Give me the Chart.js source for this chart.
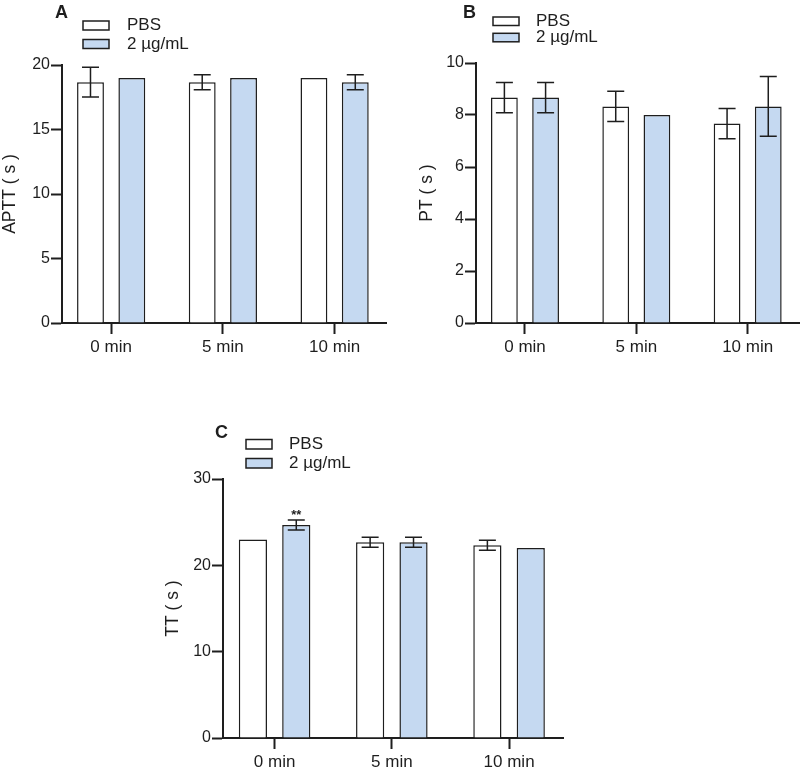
<!DOCTYPE html>
<html lang="en">
<head>
  <meta charset="UTF-8" />
  <title>APTT, PT and TT</title>
  <script src="https://cdn.jsdelivr.net/npm/chart.js"></script>
  <style>
    body {
      margin: 0;
      background: #fff;
      overflow: hidden;
    }
    .panel {
      position: absolute;
    }
  </style>
</head>
<body>

  <canvas id="chartA" class="panel" width="400" height="370" style="left:0;top:0"></canvas>
  <canvas id="chartB" class="panel" width="400" height="370" style="left:400px;top:0"></canvas>
  <canvas id="chartC" class="panel" width="500" height="384" style="left:140px;top:390px"></canvas>

  <script>
    const categories = ['0 min', '5 min', '10 min'];
    const seriesNames = ['PBS', '2 µg/mL'];

    // APTT (s)
    const apttPbs = [18.67, 18.67, 19];
    const apttPbsErr = [1.15, 0.58, 0];
    const apttDose = [19, 19, 18.67];
    const apttDoseErr = [0, 0, 0.58];

    // PT (s)
    const ptPbs = [8.67, 8.33, 7.67];
    const ptPbsErr = [0.58, 0.58, 0.58];
    const ptDose = [8.67, 8, 8.33];
    const ptDoseErr = [0.58, 0, 1.15];

    // TT (s)
    const ttPbs = [23, 22.67, 22.33];
    const ttPbsErr = [0, 0.58, 0.58];
    const ttDose = [24.67, 22.67, 22];
    const ttDoseErr = [0.58, 0.58, 0];
    const ttDoseMarks = ['**', '', ''];

    const INK = '#1e1e1e';
    const PBS_FILL = '#ffffff';
    const DOSE_FILL = '#c5d9f1';
    const FONT = '"Liberation Sans", Arial, sans-serif';

    Chart.defaults.font.family = FONT;
    Chart.defaults.color = INK;

    const toPoints = values => values.map((v, i) => ({ x: i, y: v }));

    // error bars (mean ± SD) and significance marks
    const errorBars = {
      id: 'errorBars',
      afterDatasetsDraw(chart) {
        const ctx = chart.ctx;
        const y = chart.scales.y;
        ctx.save();
        ctx.strokeStyle = INK;
        ctx.fillStyle = INK;
        ctx.lineWidth = 1.5;
        chart.data.datasets.forEach((ds, i) => {
          chart.getDatasetMeta(i).data.forEach((bar, j) => {
            const v = ds.data[j].y;
            const e = ds.errors[j] || 0;
            const top = y.getPixelForValue(v + e);
            if (e) {
              const bot = y.getPixelForValue(v - e);
              ctx.beginPath();
              ctx.moveTo(bar.x, top); ctx.lineTo(bar.x, bot);
              ctx.moveTo(bar.x - 8.5, top); ctx.lineTo(bar.x + 8.5, top);
              ctx.moveTo(bar.x - 8.5, bot); ctx.lineTo(bar.x + 8.5, bot);
              ctx.stroke();
            }
            const mark = (ds.marks || [])[j];
            if (mark) {
              ctx.font = 'bold 13px ' + FONT;
              ctx.textAlign = 'center';
              ctx.textBaseline = 'alphabetic';
              ctx.fillText(mark, bar.x, top - 1);
            }
          });
        });
        ctx.restore();
      }
    };

    // panel letter and legend
    const decor = {
      id: 'decor',
      afterDraw(chart, args, opts) {
        const ctx = chart.ctx;
        ctx.save();
        ctx.fillStyle = INK;
        ctx.textAlign = 'left';
        ctx.textBaseline = 'alphabetic';
        ctx.font = 'bold 18px ' + FONT;
        ctx.fillText(opts.letter, opts.letterX, opts.letterY);

        ctx.font = '17px ' + FONT;
        ctx.textBaseline = 'middle';
        chart.data.datasets.forEach((ds, i) => {
          const by = opts.boxY + i * opts.rowGap;
          ctx.fillStyle = ds.backgroundColor;
          ctx.fillRect(opts.boxX, by, 26, opts.boxH);
          ctx.strokeStyle = INK;
          ctx.lineWidth = 1.5;
          ctx.strokeRect(opts.boxX, by, 26, opts.boxH);
          ctx.fillStyle = INK;
          ctx.fillText(ds.label, opts.textX, by + opts.boxH / 2);
        });
        ctx.restore();
      }
    };

    function axisLine() {
      return { display: true, width: 2, color: INK };
    }

    function makePanel(id, p) {
      return new Chart(document.getElementById(id), {
        type: 'bar',
        data: {
          datasets: [
            {
              label: seriesNames[0],
              data: toPoints(p.pbs),
              errors: p.pbsErr,
              marks: p.pbsMarks,
              backgroundColor: PBS_FILL,
              borderColor: INK,
              borderWidth: 1.5
            },
            {
              label: seriesNames[1],
              data: toPoints(p.dose),
              errors: p.doseErr,
              marks: p.doseMarks,
              backgroundColor: DOSE_FILL,
              borderColor: INK,
              borderWidth: 1.5
            }
          ]
        },
        options: {
          responsive: false,
          animation: false,
          layout: { padding: p.padding },
          datasets: { bar: { categoryPercentage: 0.74, barPercentage: 0.65 } },
          scales: {
            x: {
              type: 'linear',
              min: p.xMin,
              max: p.xMax,
              offset: false,
              border: axisLine(),
              grid: {
                offset: false,
                drawOnChartArea: false,
                tickLength: 11,
                tickWidth: 2,
                tickColor: INK
              },
              ticks: {
                stepSize: 1,
                includeBounds: false,
                autoSkip: false,
                maxRotation: 0,
                padding: 3,
                font: { size: 17 },
                color: INK,
                callback: v => categories[v] ?? ''
              },
              afterFit: s => { s.height = p.xHeight; }
            },
            y: {
              min: 0,
              max: p.yMax,
              border: axisLine(),
              grid: {
                drawOnChartArea: false,
                tickLength: 11,
                tickWidth: 2,
                tickColor: INK
              },
              ticks: {
                stepSize: p.yStep,
                padding: 1,
                font: { size: 16 },
                color: INK
              },
              title: {
                display: true,
                text: p.yTitle,
                font: { size: 17.5 },
                color: INK,
                padding: 0
              },
              afterFit: s => { s.width = p.yWidth; }
            }
          },
          plugins: {
            legend: { display: false },
            tooltip: { enabled: false },
            decor: p.decor
          }
        },
        plugins: [errorBars, decor]
      });
    }

    makePanel('chartA', {
      pbs: apttPbs, pbsErr: apttPbsErr,
      dose: apttDose, doseErr: apttDoseErr,
      yTitle: 'APTT ( s )', yMax: 20, yStep: 5,
      xMin: -0.44, xMax: 2.46,
      padding: { left: 0, right: 14, top: 65, bottom: 0 },
      yWidth: 62, xHeight: 47,
      decor: { letter: 'A', letterX: 55, letterY: 18, boxX: 83, boxY: 21, rowGap: 18.5, boxH: 9, textX: 127 }
    });

    makePanel('chartB', {
      pbs: ptPbs, pbsErr: ptPbsErr,
      dose: ptDose, doseErr: ptDoseErr,
      yTitle: 'PT ( s )', yMax: 10, yStep: 2,
      xMin: -0.44, xMax: 2.47,
      padding: { left: 17, right: 0, top: 63, bottom: 0 },
      yWidth: 59, xHeight: 47,
      decor: { letter: 'B', letterX: 63, letterY: 18, boxX: 93, boxY: 17, rowGap: 16.3, boxH: 8.5, textX: 136 }
    });

    makePanel('chartC', {
      pbs: ttPbs, pbsErr: ttPbsErr,
      dose: ttDose, doseErr: ttDoseErr, doseMarks: ttDoseMarks,
      yTitle: 'TT ( s )', yMax: 30, yStep: 10,
      xMin: -0.44, xMax: 2.46,
      padding: { left: 23, right: 77, top: 89, bottom: 0 },
      yWidth: 60, xHeight: 36,
      decor: { letter: 'C', letterX: 75, letterY: 48, boxX: 106, boxY: 49.5, rowGap: 19, boxH: 9.5, textX: 149 }
    });
  </script>
</body>
</html>
